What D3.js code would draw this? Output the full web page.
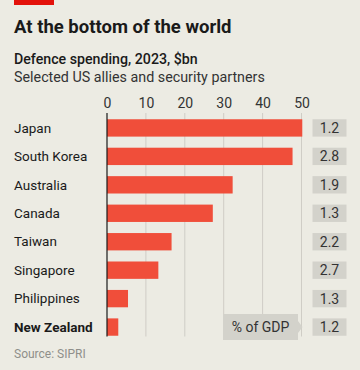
<!DOCTYPE html>
<html><head><meta charset="utf-8">
<script src="https://cdn.jsdelivr.net/npm/d3@7"></script>
<style>
html,body{margin:0;padding:0;background:#ecebe3;}
svg{display:block;font-family:Roboto,"Noto Sans",sans-serif;}
</style></head>
<body>
<svg id="chart" width="360" height="370"></svg>
<script>
const categories = ["Japan","South Korea","Australia","Canada","Taiwan","Singapore","Philippines","New Zealand"];
const spending = [50.2,47.7,32.3,27.2,16.6,13.2,5.4,2.9];
const gdpShare = ["1.2","2.8","1.9","1.3","2.2","2.7","1.3","1.2"];
const tickValues = [0,10,20,30,40,50];

const svg = d3.select("#chart");
svg.append("rect").attr("width",360).attr("height",370).attr("fill","#ecebe3");
svg.append("rect").attr("x",14).attr("y",0).attr("width",40).attr("height",5).attr("fill","#e3120b");

svg.append("text").attr("x",14).attr("y",33).attr("font-size",18.5).attr("font-weight",700)
  .attr("fill","#1a1a1a").text("At the bottom of the world");
svg.append("text").attr("x",14).attr("y",64).attr("font-size",14.2).attr("font-weight",500)
  .attr("fill","#1a1a1a").text("Defence spending, 2023, $bn");
svg.append("text").attr("x",14).attr("y",82).attr("font-size",14.3).attr("font-weight",400)
  .attr("fill","#333").text("Selected US allies and security partners");

const x = d3.scaleLinear().domain([0,50]).range([107,301.5]);
const y = d3.scaleBand().domain(categories).range([113,342]).paddingInner(0.39).paddingOuter(0.22);

// gridlines
svg.append("g").selectAll("line").data(tickValues.slice(1)).join("line")
  .attr("x1",d=>x(d)).attr("x2",d=>x(d)).attr("y1",113).attr("y2",336.5)
  .attr("stroke","#cfcdc6").attr("stroke-width",1);

// tick labels via axis
const axis = svg.append("g").attr("transform","translate(0,111)")
  .call(d3.axisTop(x).tickValues(tickValues).tickSize(0).tickPadding(3));
axis.select(".domain").remove();
axis.selectAll("text").attr("font-size",14).attr("fill","#333").attr("font-family","Roboto,'Noto Sans',sans-serif");

// bars
svg.append("g").selectAll("rect").data(categories).join("rect")
  .attr("x",x(0)).attr("y",d=>y(d)).attr("height",y.bandwidth())
  .attr("width",(d,i)=>x(spending[i])-x(0)).attr("fill","#f04e3a");

// zero line
svg.append("line").attr("x1",x(0)).attr("x2",x(0)).attr("y1",113).attr("y2",336.5)
  .attr("stroke","#1a1a1a").attr("stroke-width",1.2);

// category labels
svg.append("g").selectAll("text").data(categories).join("text")
  .attr("x",14).attr("y",d=>y(d)+y.bandwidth()/2).attr("dy","0.35em")
  .attr("font-size",13.5).attr("fill","#1a1a1a")
  .attr("font-weight",d=>d==="New Zealand"?700:400).text(d=>d);

// GDP boxes
const g = svg.append("g");
g.selectAll("rect").data(categories).join("rect")
  .attr("x",312.5).attr("y",d=>y(d)).attr("width",34).attr("height",y.bandwidth()).attr("fill","#d3d2cb");
g.selectAll("text").data(categories).join("text")
  .attr("x",329.5).attr("y",d=>y(d)+y.bandwidth()/2).attr("dy","0.35em").attr("text-anchor","middle")
  .attr("font-size",14).attr("fill","#333").text((d,i)=>gdpShare[i]);

// "% of GDP" callout
const ly = y("New Zealand")+y.bandwidth()/2;
svg.append("path")
  .attr("d",`M223,${ly-13}H298V${ly-6}L302.5,${ly}L298,${ly+6}V${ly+13}H223Z`)
  .attr("fill","#d3d2cb");
svg.append("text").attr("x",260.5).attr("y",ly).attr("dy","0.35em").attr("text-anchor","middle")
  .attr("font-size",14).attr("fill","#333").text("% of GDP");

svg.append("text").attr("x",14).attr("y",358).attr("font-size",12).attr("fill","#8f8f8a").text("Source: SIPRI");
</script>
</body></html>
